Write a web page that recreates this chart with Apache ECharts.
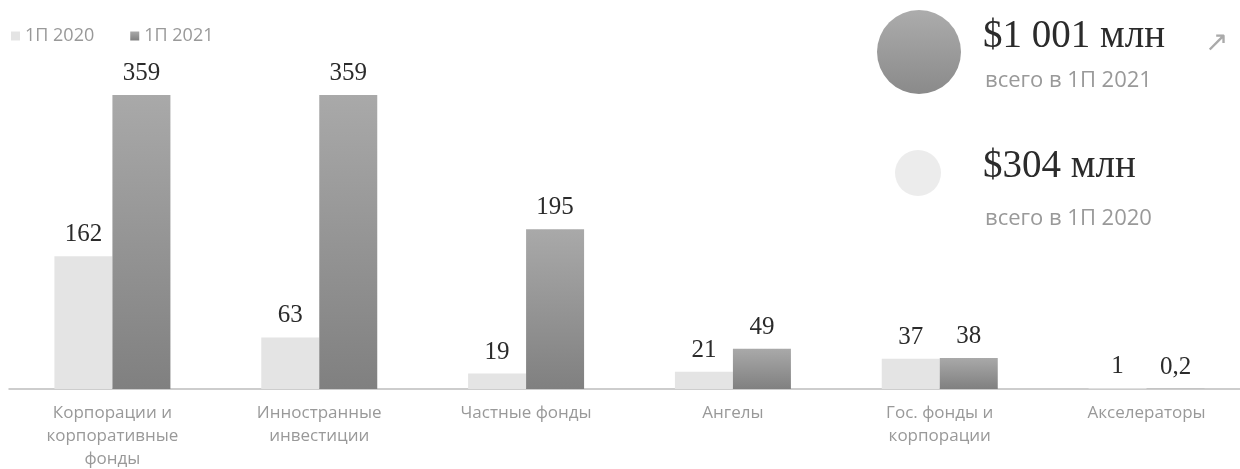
<!DOCTYPE html>
<html><head><meta charset="utf-8">
<script src="https://cdn.jsdelivr.net/npm/echarts@6/dist/echarts.min.js"></script>
<style>html,body{margin:0;padding:0;background:#fff}#c{width:1240px;height:469px}</style>
</head><body><div id="c"></div>
<script>
const categories = ['Корпорации и\nкорпоративные\nфонды', 'Инностранные\nинвестиции', 'Частные фонды', 'Ангелы', 'Гос. фонды и\nкорпорации', 'Акселераторы'];
const seriesNames = ['1П 2020', '1П 2021'];
const values2020 = [162, 63, 19, 21, 37, 1];
const values2021 = [359, 359, 195, 49, 38, 0.2];
const totalLabels = ['$1 001 млн', '$304 млн'];
const totalSubLabels = ['всего в 1П 2021', 'всего в 1П 2020'];

const chart = echarts.init(document.getElementById('c'));
const serif = '"Liberation Serif", "DejaVu Serif", serif';
const sans = '"Open Sans", "Noto Sans", sans-serif';
const grad2021 = new echarts.graphic.LinearGradient(0, 0, 0, 1, [
  {offset: 0, color: '#a9a9a9'}, {offset: 1, color: '#808080'}]);
const labelStyle = {
  show: true, position: 'top', distance: 9,
  fontFamily: serif, fontSize: 25, color: '#2b2b2b',
  formatter: p => String(p.value).replace('.', ',')
};
chart.setOption({
  animation: false,
  backgroundColor: '#fff',
  legend: {
    left: 6, top: 22, icon: 'rect', itemWidth: 9, itemHeight: 9, itemGap: 36,
    textStyle: {fontFamily: sans, fontSize: 18, color: '#999'},
    data: seriesNames
  },
  grid: {left: 9, width: 1241, top: 61.4, bottom: 80, containLabel: false, outerBoundsMode: 'none'},
  xAxis: {
    type: 'category', data: categories,
    axisLine: {lineStyle: {color: '#bdbdbd', width: 1.5}},
    axisTick: {show: false},
    axisLabel: {fontFamily: sans, fontSize: 17, color: '#999', lineHeight: 23, margin: 13, interval: 0}
  },
  yAxis: {type: 'value', min: 0, max: 400, show: false, splitLine: {show: false}},
  series: [
    {name: seriesNames[0], type: 'bar', data: values2020, barWidth: 58, barGap: '0%',
     itemStyle: {color: '#e4e4e4'}, label: labelStyle},
    {name: seriesNames[1], type: 'bar', data: values2021, barWidth: 58,
     itemStyle: {color: grad2021}, label: labelStyle}
  ],
  graphic: [
    {type: 'circle', shape: {cx: 919, cy: 52, r: 42},
     style: {fill: new echarts.graphic.LinearGradient(0, 0, 0, 1, [
       {offset: 0, color: '#acacac'}, {offset: 1, color: '#8a8a8a'}])}},
    {type: 'circle', shape: {cx: 918, cy: 173, r: 23}, style: {fill: '#ececec'}},
    {type: 'text', left: 983, top: 17,
     style: {text: totalLabels[0], font: '39px ' + serif, fill: '#2b2b2b'}},
    {type: 'text', left: 1205, top: 29,
     style: {text: '↗', font: '28px ' + sans, fill: '#aaa'}},
    {type: 'text', left: 985, top: 70,
     style: {text: totalSubLabels[0], font: '22px ' + sans, fill: '#999'}},
    {type: 'text', left: 983, top: 147,
     style: {text: totalLabels[1], font: '39px ' + serif, fill: '#2b2b2b'}},
    {type: 'text', left: 985, top: 208,
     style: {text: totalSubLabels[1], font: '22px ' + sans, fill: '#999'}}
  ]
});
</script></body></html>
